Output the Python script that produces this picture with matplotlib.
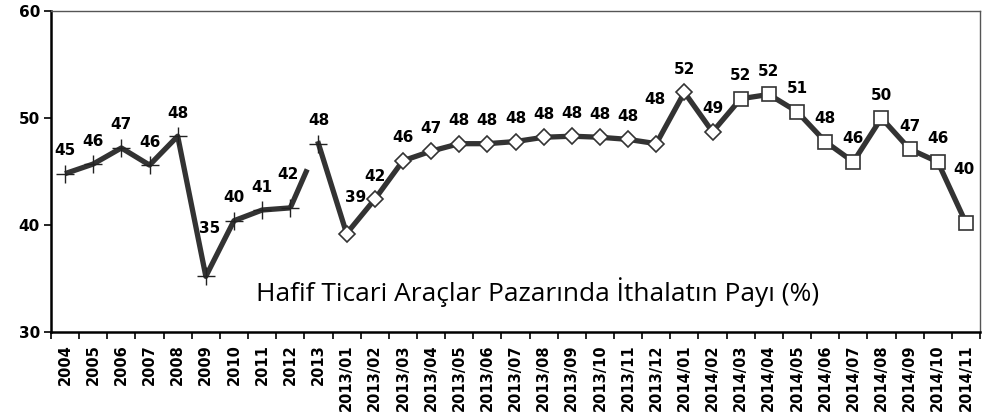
import numpy as np
import matplotlib
matplotlib.use("Agg")
import matplotlib.pyplot as plt

# Kategoriler: yıllık, 2013 aylık ve 2014 aylık
yillar = ["2004", "2005", "2006", "2007", "2008", "2009", "2010", "2011", "2012", "2013"]
aylar_2013 = ["2013/%02d" % m for m in range(1, 13)]
aylar_2014 = ["2014/%02d" % m for m in range(1, 12)]
kategoriler = yillar + aylar_2013 + aylar_2014

# İthalatın payı (%)
pay_yillik = [44.8, 45.7, 47.2, 45.6, 48.3, 35.2, 40.4, 41.4, 41.6, 47.6]
pay_2013 = [39.2, 42.4, 46.0, 46.9, 47.6, 47.6, 47.8, 48.2, 48.3, 48.2, 48.0, 47.6]
pay_2014 = [52.4, 48.7, 51.8, 52.2, 50.6, 47.8, 45.9, 50.0, 47.1, 45.9, 40.2]
pay = np.array(pay_yillik + pay_2013 + pay_2014)

# Etiketlerin kaydırması (piksel), varsayılan: tam üstte
etiket_kaydirma = {5: (4, 48), 8: (-2, 33), 10: (9, 36), 21: (-1, 44), 32: (-2, 53)}

x = np.arange(len(kategoriler))
n1 = len(pay_yillik)
n2 = n1 + len(pay_2013) + 2  # karo işaretleri 2014/02'ye kadar

fig = plt.figure(figsize=(9.85, 4.17), dpi=100)
ax = fig.add_axes([51 / 985, 1 - 332 / 417, 929 / 985, 321 / 417])

cizgi = "#333333"
lw = 3.8

# 2004-2012 arası çizgi ve 2013'e doğru kesik kalan parça
ax.plot(x[:n1 - 1], pay[:n1 - 1], color=cizgi, lw=lw, solid_capstyle="butt", zorder=2)
t = 0.6
ax.plot([x[n1 - 2], x[n1 - 2] + t], [pay[n1 - 2], pay[n1 - 2] + t * (pay[n1 - 1] - pay[n1 - 2])],
        color=cizgi, lw=lw, solid_capstyle="butt", zorder=2)
# 2013'ten sonrası
ax.plot(x[n1 - 1:], pay[n1 - 1:], color=cizgi, lw=lw, solid_joinstyle="miter", zorder=2)

# İşaretler
ax.plot(x[:n1], pay[:n1], ls="none", marker="+", ms=13, mew=1.0, color="#222222", zorder=3)
ax.plot(x[n1:n2], pay[n1:n2], ls="none", marker="D", ms=8, mew=1.2,
        mfc="white", mec="#333333", zorder=3)
ax.plot(x[n2:], pay[n2:], ls="none", marker="s", ms=10.5, mew=1.2,
        mfc="white", mec="#333333", zorder=3)

# Değer etiketleri
for i, v in enumerate(pay):
    dx, dy = etiket_kaydirma.get(i, (0, 23))
    ax.annotate("%d" % round(v), (x[i], v), xytext=(dx, dy), textcoords="offset pixels",
                ha="center", va="center", fontsize=11, fontweight="bold", color="black")

ax.text(0.524, 0.125, "Hafif Ticari Araçlar Pazarında İthalatın Payı (%)", transform=ax.transAxes,
        ha="center", va="center", fontsize=19, family="Open Sans", color="black")

ax.set_xlim(-0.5, len(kategoriler) - 0.5)
ax.set_ylim(30, 60)
ax.set_yticks([30, 40, 50, 60])
ax.set_xticks(x)
ax.set_xticklabels(kategoriler, rotation=90, fontsize=10.5, fontweight="bold")
ax.set_xticks(np.arange(-0.5, len(kategoriler)), minor=True)
ax.tick_params(axis="x", which="major", length=0, pad=9)
ax.tick_params(axis="x", which="minor", length=5, width=1.2, direction="out")
ax.tick_params(axis="y", length=5, width=1.2, labelsize=11, pad=3)
for lab in ax.get_yticklabels():
    lab.set_fontweight("bold")

for s in ["left", "bottom"]:
    ax.spines[s].set_linewidth(1.8)
    ax.spines[s].set_color("black")
for s in ["top", "right"]:
    ax.spines[s].set_linewidth(1.0)
    ax.spines[s].set_color("#555555")

fig.savefig("out.png", dpi=100)
